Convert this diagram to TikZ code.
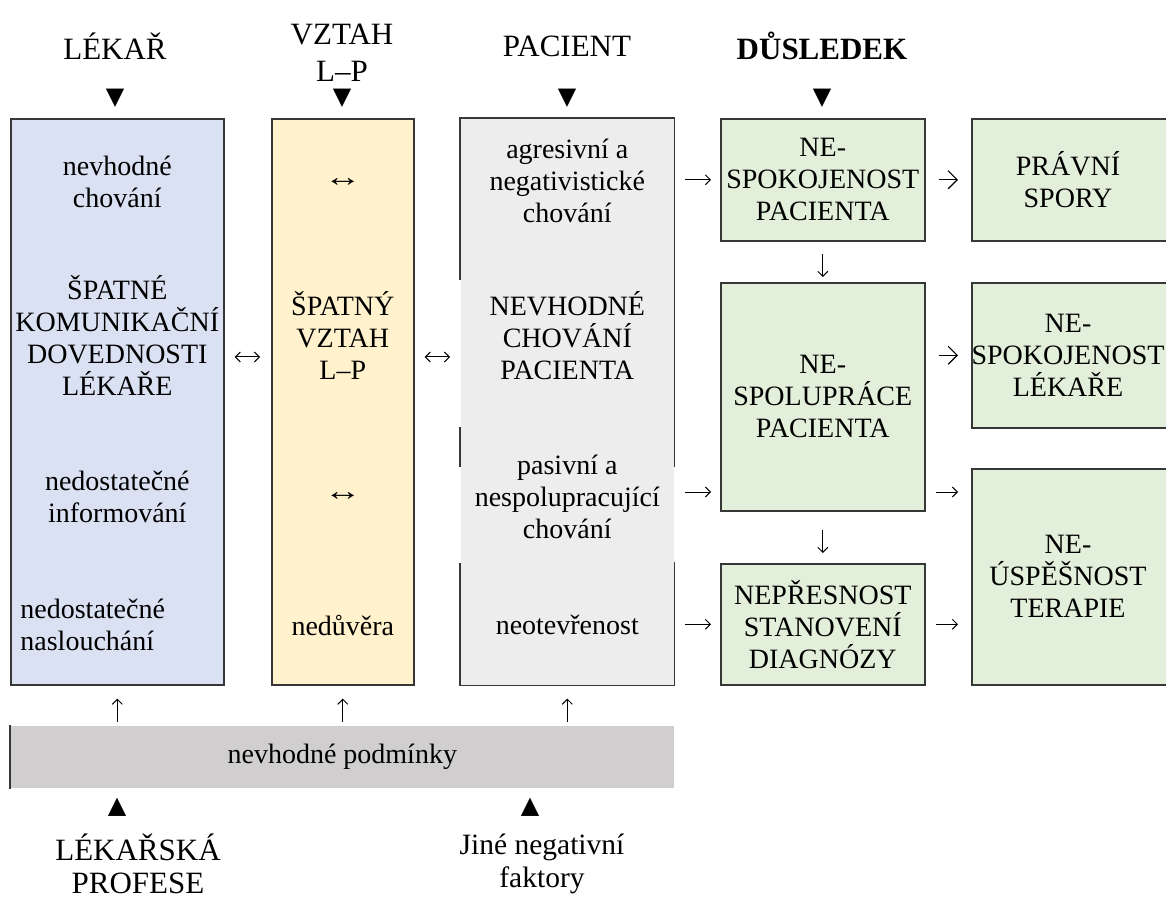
\documentclass[tikz,border=0pt]{standalone}
\usepackage{fontspec}
\setmainfont{Liberation Serif}
\newfontfamily\symfont{DejaVu Sans}
\usetikzlibrary{positioning,arrows.meta}
\tikzset{>=latex}
\definecolor{lekblue}{RGB}{218,225,243}
\definecolor{vztyellow}{RGB}{255,242,204}
\definecolor{pacgray}{RGB}{237,237,237}
\definecolor{dusgreen}{RGB}{226,239,218}
\definecolor{condgray}{RGB}{208,206,206}
\definecolor{edgegray}{RGB}{55,55,55}
\tikzset{
  box/.style={draw=edgegray, line width=0.8pt, anchor=north west, inner sep=0pt},
  edge/.style={draw=edgegray, line width=0.8pt},
  txt/.style={align=center, inner sep=1pt},
  head/.style={align=center, inner sep=1pt, font=\fontsize{15.5}{18.5}\selectfont},
  arr/.style={-{Straight Barb[length=2.5pt,width=5pt]}, line width=0.5pt},
  darr/.style={{Straight Barb[length=2.5pt,width=5pt]}-{Straight Barb[length=2.5pt,width=5pt]}, line width=0.5pt},
  bigarr/.style={-{Straight Barb[length=4.5pt,width=9pt]}, line width=0.6pt},
  tri/.style={font=\symfont\fontsize{12}{12}\selectfont, inner sep=0pt}
}

\begin{document}
\begin{tikzpicture}[x=0.5pt, y=-0.5pt, font=\fontsize{14}{16}\selectfont]
      \useasboundingbox (0,0) rectangle (1166,898);
      % headings
      \node[head] (hlek) at (115,46) {LÉKAŘ};
      \node[head] (hvzt) at (342,53) {VZTAH\\L–P};
      \node[head] (hpac) at (567,46) {PACIENT};
      \node[head, font=\fontsize{15.5}{18.5}\selectfont\bfseries] (hdus) at (822,46) {DŮSLEDEK};
      \foreach \x/\n in {115/lek, 342/vzt, 567/pac, 822/dus}
        \node[tri] (t\n) at (\x,98) {▼};
      % columns
      \node[box, fill=lekblue, minimum width=106.5pt, minimum height=283pt] (lek) at (10,118) {};
      \node[box, fill=vztyellow, minimum width=71pt, minimum height=283pt] (vzt) at (271,118) {};
      \node[box, draw=none, fill=pacgray, minimum width=106.5pt, minimum height=283pt] (pac) at (460,118) {};
      \draw[edge] (pac.east |- 0,467) -- (pac.north east) -- (pac.north west) -- (pac.west |- 0,280);
      \draw[edge] (pac.west |- 0,427) -- (pac.west |- 0,467);
      \draw[edge] (pac.west |- 0,563) -- (pac.south west) -- (pac.south east) -- (pac.east |- 0,562);
      % consequences
      \node[box, fill=dusgreen, minimum width=102pt, minimum height=61pt] (nsp) at (720,118) {};
      \node[box, fill=dusgreen, minimum width=102pt, minimum height=114pt] (nsl) at (720,282) {};
      \node[box, fill=dusgreen, minimum width=102pt, minimum height=60.5pt] (npd) at (720,563) {};
      \node[box, fill=dusgreen, minimum width=104pt, minimum height=61pt] (prs) at (971,118) {};
      \node[box, fill=dusgreen, minimum width=104pt, minimum height=72.5pt] (nsk) at (971,282) {};
      \node[box, fill=dusgreen, minimum width=104pt, minimum height=108pt] (nut) at (971,468) {};
      % texts in columns
      \node[txt] (lek1) at (lek.center |- 0,182) {nevhodné\\chování};
      \node[txt] (lek2) at (lek.center |- 0,335) {ŠPATNÉ\\KOMUNIKAČNÍ\\DOVEDNOSTI\\LÉKAŘE};
      \node[txt] (lek3) at (lek.center |- 0,497) {nedostatečné\\informování};
      \node[align=left, anchor=west, inner sep=1pt] (lek4) at (18,625) {nedostatečné\\naslouchání};
      \node[txt] (vzt1) at (vzt.center |- 0,183) {\scalebox{1.35}[1]{↔}};
      \node[txt] (vzt2) at (vzt.center |- 0,335) {ŠPATNÝ\\VZTAH\\L–P};
      \node[txt] (vzt3) at (vzt.center |- 0,497) {\scalebox{1.35}[1]{↔}};
      \node[txt] (vzt4) at (vzt.center |- 0,625) {nedůvěra};
      \node[txt] (pac1) at (pac.center |- 0,181) {agresivní a\\negativistické\\chování};
      \node[txt] (pac2) at (pac.center |- 0,336) {NEVHODNÉ\\CHOVÁNÍ\\PACIENTA};
      \node[txt] (pac3) at (pac.center |- 0,497) {pasivní a\\nespolupracující\\chování};
      \node[txt] (pac4) at (pac.center |- 0,625) {neotevřenost};
      \node[txt] at (nsp) {NE-\\SPOKOJENOST\\PACIENTA};
      \node[txt] at (nsl) {NE-\\SPOLUPRÁCE\\PACIENTA};
      \node[txt] at (npd) {NEPŘESNOST\\STANOVENÍ\\DIAGNÓZY};
      \node[txt] at (prs.center -| 1068,0) {PRÁVNÍ\\SPORY};
      \node[txt] at (nsk.center -| 1068,0) {NE-\\SPOKOJENOST\\LÉKAŘE};
      \node[txt] at (nut.center -| 1068,0) {NE-\\ÚSPĚŠNOST\\TERAPIE};
      % conditions
      \node[box, draw=none, fill=condgray, minimum width=331.5pt, minimum height=31pt] (cond) at (10,725) {};
      \draw[edge] (cond.north west) -- (cond.south west);
      \node[txt] (condt) at (cond.center) {nevhodné podmínky};
      \node[tri] (tprof) at (117,807) {▲};
      \node[tri] (tjine) at (530,807) {▲};
      \node[head, font=\fontsize{15.5}{16.5}\selectfont] (prof) at (138,864) {LÉKAŘSKÁ\\PROFESE};
      \node[txt, font=\fontsize{14.75}{16.5}\selectfont] (jine) at (542,864) {Jiné negativní\\faktory};
      % connectors
      \coordinate (mid) at (0,357);
      \draw[darr, shorten <=5pt, shorten >=5.5pt] (lek.east |- mid) -- (vzt.west |- mid);
      \draw[darr, shorten <=5pt, shorten >=5pt] (vzt.east |- mid) -- (pac.west |- mid);
      \draw[arr, shorten <=1.5pt, shorten >=6.5pt] (cond.north -| lek) -- (lek.south);
      \draw[arr, shorten <=1.5pt, shorten >=6.5pt] (cond.north -| vzt) -- (vzt.south);
      \draw[arr, shorten <=1.5pt, shorten >=6.5pt] (cond.north -| pac) -- (pac.south);
      \draw[arr, shorten <=5pt, shorten >=4.5pt] (pac.east |- nsp) -- (nsp.west);
      \draw[arr, shorten <=5pt, shorten >=4.5pt] (pac.east |- 0,492) -- (nsl.west |- 0,492);
      \draw[arr, shorten <=5pt, shorten >=4.5pt] (pac.east |- npd) -- (npd.west);
      \draw[arr, shorten <=6pt, shorten >=2.5pt] (nsp) -- (nsl);
      \draw[arr, shorten <=9pt, shorten >=5pt] (nsl) -- (npd);
      \draw[bigarr, shorten <=6.5pt, shorten >=6.5pt] (nsp) -- (prs.west |- nsp);
      \draw[bigarr, shorten <=6.5pt, shorten >=6.5pt] (nsl.east |- nsk) -- (nsk.west);
      \draw[arr, shorten <=5pt, shorten >=6.5pt] (nsl.east |- 0,492) -- (nut.west |- 0,492);
      \draw[arr, shorten <=5pt, shorten >=6.5pt] (npd.east) -- (nut.west |- npd);
\end{tikzpicture}
\end{document}
